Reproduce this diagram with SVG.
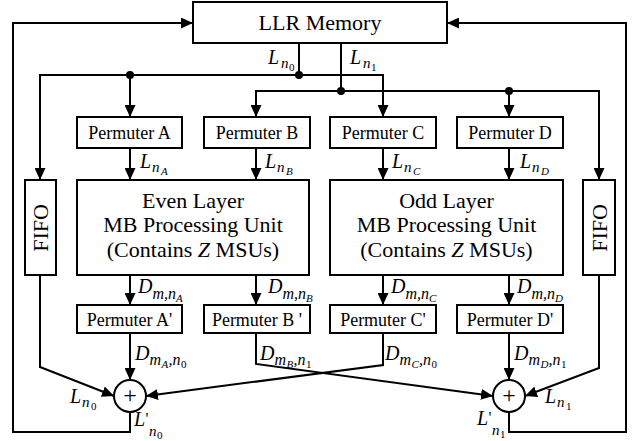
<svg xmlns="http://www.w3.org/2000/svg" width="641" height="441" viewBox="0 0 641 441">
<style>
.box{fill:#fff;stroke:#000;stroke-width:2}
.ln{fill:none;stroke:#000;stroke-width:2}
.ar{marker-end:url(#ah)}
text{font-family:"Liberation Serif","Times New Roman",serif;fill:#000}
.c{text-anchor:middle}
.p{font-size:18px}
.big{font-size:22px}
.mi{font-style:italic}
.up{font-style:normal}
</style>
<defs>
<marker id="ah" markerWidth="12" markerHeight="11" refX="12" refY="5.5" orient="auto" markerUnits="userSpaceOnUse"><path d="M0,0 L12,5.5 L0,11 z" fill="#000"/></marker>
</defs>
<rect width="641" height="441" fill="#fff"/>

<g id="connectors">
<path class="ln ar" d="M130,412 V432 H13 V23 H193"/>
<path class="ln ar" d="M509,412 V432 H626 V23 H447"/>
<path class="ln" d="M299,43 V75"/>
<path class="ln" d="M341,43 V91"/>
<path class="ln ar" d="M299,75 H40 V180"/>
<path class="ln ar" d="M299,75 H383 V117"/>
<path class="ln ar" d="M130,75 V117"/>
<path class="ln ar" d="M341,91 H256 V117"/>
<path class="ln ar" d="M341,91 H599 V180"/>
<path class="ln ar" d="M509,91 V117"/>
<path class="ln ar" d="M130,148 V180"/>
<path class="ln ar" d="M256,148 V180"/>
<path class="ln ar" d="M383,148 V180"/>
<path class="ln ar" d="M509,148 V180"/>
<path class="ln ar" d="M130,275 V305"/>
<path class="ln ar" d="M256,275 V305"/>
<path class="ln ar" d="M383,275 V305"/>
<path class="ln ar" d="M509,275 V305"/>
<path class="ln ar" d="M130,333 V380"/>
<path class="ln ar" d="M509,333 V380"/>
<path class="ln ar" d="M256,333 V364 L493,396"/>
<path class="ln ar" d="M383,333 V365 L146,396"/>
<path class="ln ar" d="M40,275 V367 L114,396"/>
<path class="ln ar" d="M599,275 V368 L525,396"/>
<circle cx="130" cy="75" r="4"/>
<circle cx="299" cy="75" r="4"/>
<circle cx="341" cy="91" r="4"/>
<circle cx="509" cy="91" r="4"/>
</g>

<g id="llr-memory">
<rect class="box" x="193" y="2" width="254" height="41"/>
<text class="c big" x="320" y="30">LLR Memory</text>
</g>

<g id="permuter-a"><rect class="box" x="77" y="117" width="105" height="31"/><text class="c p" x="129.5" y="139">Permuter A</text></g>
<g id="permuter-b"><rect class="box" x="204" y="117" width="106" height="31"/><text class="c p" x="257" y="139">Permuter B</text></g>
<g id="permuter-c"><rect class="box" x="330" y="117" width="106" height="31"/><text class="c p" x="383" y="139">Permuter C</text></g>
<g id="permuter-d"><rect class="box" x="457" y="117" width="106" height="31"/><text class="c p" x="510" y="139">Permuter D</text></g>

<g id="fifo-left"><rect class="box" x="25" y="180" width="31" height="95"/><text class="c big" transform="translate(48,228) rotate(-90)">FIFO</text></g>
<g id="fifo-right"><rect class="box" x="583" y="180" width="32" height="95"/><text class="c big" transform="translate(607,228) rotate(-90)">FIFO</text></g>

<g id="even-layer"><rect class="box" x="77" y="180" width="232" height="95"/>
<text class="c big" x="193" y="207.5">Even Layer</text>
<text class="c big" x="193" y="232">MB Processing Unit</text>
<text class="c big" x="193" y="256.5">(Contains <tspan class="mi">Z</tspan> MSUs)</text></g>
<g id="odd-layer"><rect class="box" x="330" y="180" width="233" height="95"/>
<text class="c big" x="446.5" y="207.5">Odd Layer</text>
<text class="c big" x="446.5" y="232">MB Processing Unit</text>
<text class="c big" x="446.5" y="256.5">(Contains <tspan class="mi">Z</tspan> MSUs)</text></g>

<g id="permuter-a-prime"><rect class="box" x="77" y="305" width="105" height="28"/><text class="c p" x="129.5" y="326">Permuter A'</text></g>
<g id="permuter-b-prime"><rect class="box" x="204" y="305" width="106" height="28"/><text class="c p" x="257" y="326">Permuter B '</text></g>
<g id="permuter-c-prime"><rect class="box" x="330" y="305" width="106" height="28"/><text class="c p" x="383" y="326">Permuter C'</text></g>
<g id="permuter-d-prime"><rect class="box" x="457" y="305" width="106" height="28"/><text class="c p" x="510" y="326">Permuter D'</text></g>

<g id="sum-left"><circle class="box" cx="130" cy="396" r="16"/><text class="c" x="130" y="403" font-size="24">+</text></g>
<g id="sum-right"><circle class="box" cx="509" cy="396" r="16"/><text class="c" x="509" y="403" font-size="24">+</text></g>

<g id="labels" class="mi">
<text><tspan x="268" y="64" font-size="20">L</tspan><tspan x="281" y="68" font-size="15">n</tspan><tspan class="up" x="289" y="71" font-size="11">0</tspan></text>
<text><tspan x="350" y="64" font-size="20">L</tspan><tspan x="363" y="68" font-size="15">n</tspan><tspan class="up" x="371" y="71" font-size="11">1</tspan></text>

<text><tspan x="140" y="168" font-size="20">L</tspan><tspan x="152" y="172" font-size="15">n</tspan><tspan x="161" y="175" font-size="11">A</tspan></text>
<text><tspan x="265" y="168" font-size="20">L</tspan><tspan x="277" y="172" font-size="15">n</tspan><tspan x="286" y="175" font-size="11">B</tspan></text>
<text><tspan x="392" y="168" font-size="20">L</tspan><tspan x="404" y="172" font-size="15">n</tspan><tspan x="413" y="175" font-size="11">C</tspan></text>
<text><tspan x="520" y="168" font-size="20">L</tspan><tspan x="532" y="172" font-size="15">n</tspan><tspan x="541" y="175" font-size="11">D</tspan></text>

<text><tspan x="138" y="293" font-size="20">D</tspan><tspan x="152.5" y="299" font-size="16">m,n</tspan><tspan x="176" y="302" font-size="11">A</tspan></text>
<text><tspan x="268" y="293" font-size="20">D</tspan><tspan x="282.5" y="299" font-size="16">m,n</tspan><tspan x="306" y="302" font-size="11">B</tspan></text>
<text><tspan x="391" y="293" font-size="20">D</tspan><tspan x="405.5" y="299" font-size="16">m,n</tspan><tspan x="429" y="302" font-size="11">C</tspan></text>
<text><tspan x="517" y="293" font-size="20">D</tspan><tspan x="531.5" y="299" font-size="16">m,n</tspan><tspan x="555" y="302" font-size="11">D</tspan></text>

<text><tspan x="135" y="360" font-size="20">D</tspan><tspan x="149.5" y="365" font-size="16">m</tspan><tspan x="161.5" y="368" font-size="11">A</tspan><tspan x="168.5" y="365" font-size="16">,n</tspan><tspan class="up" x="181" y="368" font-size="11">0</tspan></text>
<text><tspan x="260" y="360" font-size="20">D</tspan><tspan x="274.5" y="365" font-size="16">m</tspan><tspan x="286.5" y="368" font-size="11">B</tspan><tspan x="293.5" y="365" font-size="16">,n</tspan><tspan class="up" x="306" y="368" font-size="11">1</tspan></text>
<text><tspan x="385" y="360" font-size="20">D</tspan><tspan x="399.5" y="365" font-size="16">m</tspan><tspan x="411.5" y="368" font-size="11">C</tspan><tspan x="419" y="365" font-size="16">,n</tspan><tspan class="up" x="431.5" y="368" font-size="11">0</tspan></text>
<text><tspan x="514" y="360" font-size="20">D</tspan><tspan x="528.5" y="365" font-size="16">m</tspan><tspan x="540.5" y="368" font-size="11">D</tspan><tspan x="548.5" y="365" font-size="16">,n</tspan><tspan class="up" x="561" y="368" font-size="11">1</tspan></text>

<text><tspan x="70" y="403" font-size="20">L</tspan><tspan x="82" y="407" font-size="15">n</tspan><tspan class="up" x="91" y="410" font-size="11">0</tspan></text>
<text><tspan x="545" y="403" font-size="20">L</tspan><tspan x="557" y="407" font-size="15">n</tspan><tspan class="up" x="566" y="410" font-size="11">1</tspan></text>

<text><tspan x="134" y="426" font-size="20">L</tspan><tspan class="up" x="145.5" y="424" font-size="16">'</tspan><tspan x="149" y="436" font-size="15">n</tspan><tspan class="up" x="157" y="439" font-size="11">0</tspan></text>
<text><tspan x="477" y="425" font-size="20">L</tspan><tspan class="up" x="488.5" y="423" font-size="16">'</tspan><tspan x="492" y="435" font-size="15">n</tspan><tspan class="up" x="500" y="438" font-size="11">1</tspan></text>
</g>
</svg>
